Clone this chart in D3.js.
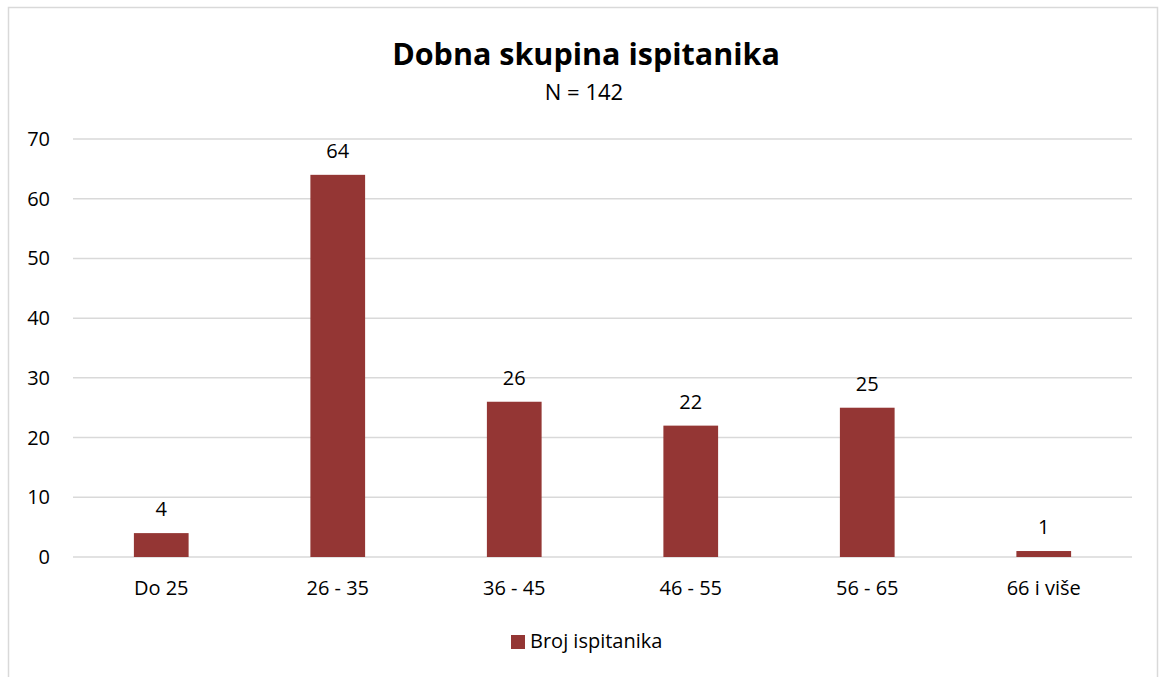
<!DOCTYPE html>
<html>
<head>
<meta charset="utf-8">
<script src="https://cdn.jsdelivr.net/npm/d3@7"></script>
<style>
  body { margin: 0; background: #fff; }
  text { font-family: "Open Sans", "Noto Sans", sans-serif; fill: #000; }
</style>
</head>
<body>
<script>
var categories = ["Do 25", "26 - 35", "36 - 45", "46 - 55", "56 - 65", "66 i više"];
var values = [4, 64, 26, 22, 25, 1];
var yTicks = [0, 10, 20, 30, 40, 50, 60, 70];
var seriesName = "Broj ispitanika";

var w = 1160, h = 677;
var barColor = "#943634";

var svg = d3.select("body").append("svg")
  .attr("width", w)
  .attr("height", h);

// chart border (bottom falls outside the picture)
svg.append("rect")
  .attr("x", 8.5).attr("y", 7.5)
  .attr("width", 1149).attr("height", 700)
  .attr("fill", "none")
  .attr("stroke", "#d9d9d9")
  .attr("stroke-width", 1.5);

var x = d3.scaleBand()
  .domain(categories)
  .range([73, 1132])
  .paddingInner(0.69)
  .paddingOuter(0.345);

var y = d3.scaleLinear()
  .domain([0, 70])
  .range([557, 139]);

// gridlines
svg.append("g").selectAll("line")
  .data(yTicks)
  .enter().append("line")
  .attr("x1", 73).attr("x2", 1132)
  .attr("y1", function(d){ return y(d); })
  .attr("y2", function(d){ return y(d); })
  .attr("stroke", "#d9d9d9")
  .attr("stroke-width", 1.5);

// y axis labels
svg.append("g").selectAll("text")
  .data(yTicks)
  .enter().append("text")
  .attr("x", 50)
  .attr("y", function(d){ return y(d); })
  .attr("dy", "0.35em")
  .attr("text-anchor", "end")
  .style("font-size", "20px")
  .text(function(d){ return d; });

// bars
svg.append("g").selectAll("rect")
  .data(values)
  .enter().append("rect")
  .attr("x", function(d, i){ return x(categories[i]); })
  .attr("width", x.bandwidth())
  .attr("y", function(d){ return y(d); })
  .attr("height", function(d){ return y(0) - y(d); })
  .attr("fill", barColor);

// value labels
svg.append("g").selectAll("text")
  .data(values)
  .enter().append("text")
  .attr("x", function(d, i){ return x(categories[i]) + x.bandwidth() / 2; })
  .attr("y", function(d){ return y(d) - 17; })
  .attr("text-anchor", "middle")
  .style("font-size", "20px")
  .text(function(d){ return d; });

// category labels
svg.append("g").selectAll("text")
  .data(categories)
  .enter().append("text")
  .attr("x", function(d){ return x(d) + x.bandwidth() / 2; })
  .attr("y", 595)
  .attr("text-anchor", "middle")
  .style("font-size", "20px")
  .text(function(d){ return d; });

// title
svg.append("text")
  .attr("x", 586).attr("y", 65)
  .attr("text-anchor", "middle")
  .style("font-size", "30.5px")
  .style("font-weight", "bold")
  .text("Dobna skupina ispitanika");

svg.append("text")
  .attr("x", 584).attr("y", 100)
  .attr("text-anchor", "middle")
  .style("font-size", "22px")
  .text("N = 142");

// legend
var lg = svg.append("g");
lg.append("rect")
  .attr("x", 511).attr("y", 635)
  .attr("width", 14).attr("height", 14)
  .attr("fill", barColor);
lg.append("text")
  .attr("x", 530).attr("y", 648)
  .style("font-size", "20px")
  .text(seriesName);
</script>
</body>
</html>
